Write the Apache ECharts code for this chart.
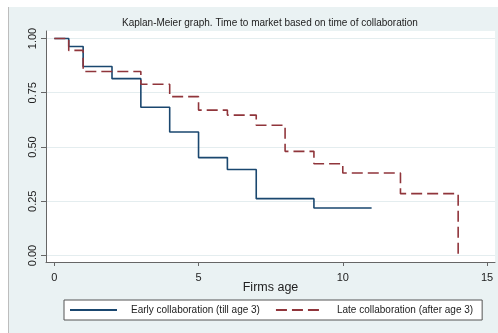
<!DOCTYPE html>
<html>
<head>
<meta charset="utf-8">
<script src="https://cdn.jsdelivr.net/npm/echarts@6/dist/echarts.min.js"></script>
<style>
  html, body { margin: 0; padding: 0; background: #ffffff; }
  #chart { width: 498px; height: 333px; }
</style>
</head>
<body>
<div id="chart"></div>
<script>
// Kaplan-Meier survival estimates: [time, survival] pairs, value held until next time
const earlyTimes = [0, 0.5, 1, 2, 3, 4, 5, 6, 7, 9, 11];
const earlySurvival = [1, 0.963, 0.871, 0.815, 0.683, 0.569, 0.451, 0.396, 0.262, 0.219, 0.219];
const lateTimes = [0, 0.5, 1, 3, 4, 5, 6, 7, 8, 9, 10, 12, 14];
const lateSurvival = [1, 0.945, 0.848, 0.789, 0.732, 0.670, 0.647, 0.600, 0.480, 0.423, 0.380, 0.285, 0];
const xTicks = [0, 5, 10, 15];
const yTicks = [0, 0.25, 0.5, 0.75, 1];
const seriesNames = ['Early collaboration (till age 3)', 'Late collaboration (after age 3)'];
const titleText = 'Kaplan-Meier graph. Time to market based on time of collaboration';
const xTitle = 'Firms age';

const pair = (xs, ys) => xs.map((x, i) => [x, ys[i]]);

const FONT = '"Liberation Sans", Arial, sans-serif';
const AXIS = '#666666';

const chart = echarts.init(document.getElementById('chart'), null, { renderer: 'canvas' });

chart.setOption({
  animation: false,
  backgroundColor: '#ffffff',
  graphic: [
    { type: 'rect', z: -10, shape: { x: 8, y: 7, width: 490, height: 326 },
      style: { fill: '#eaf2f3' } },
    { type: 'line', z: -9, shape: { x1: 8.5, y1: 7, x2: 8.5, y2: 333 },
      style: { stroke: '#bdbdbd', lineWidth: 1 } }
  ],
  title: {
    text: titleText,
    left: 122, top: 18, padding: 0,
    textStyle: { fontFamily: FONT, fontSize: 10, fontWeight: 'normal', color: '#222' }
  },
  grid: {
    left: 46, right: 3, top: 31, bottom: 71,
    show: true, backgroundColor: '#ffffff', borderWidth: 0
  },
  legend: {
    left: 64, top: 300,
    padding: [5, 9, 5, 5],
    itemGap: 15,
    itemWidth: 47, itemHeight: 12,
    backgroundColor: '#ffffff',
    borderColor: '#555555', borderWidth: 1, borderRadius: 0,
    itemStyle: { opacity: 0 },
    textStyle: { fontFamily: FONT, fontSize: 10, color: '#222', padding: [0, 0, 0, 9] },
    data: seriesNames
  },
  xAxis: {
    type: 'value',
    min: -0.288, max: 15.277,
    name: xTitle, nameLocation: 'middle', nameGap: 19, nameMoveOverlap: false,
    nameTextStyle: { fontFamily: FONT, fontSize: 12.5, color: '#222' },
    axisLine: { show: true, onZero: false, lineStyle: { color: AXIS, width: 1 } },
    axisTick: { show: true, length: 4, customValues: xTicks, lineStyle: { color: AXIS } },
    axisLabel: { customValues: xTicks, margin: 10, fontFamily: FONT, fontSize: 11, color: '#222' },
    splitLine: { show: false }
  },
  yAxis: {
    type: 'value',
    min: -0.030, max: 1.0345,
    axisLine: { show: true, onZero: false, lineStyle: { color: AXIS, width: 1 } },
    axisTick: { show: true, length: 5, customValues: yTicks, lineStyle: { color: AXIS } },
    axisLabel: {
      customValues: yTicks, rotate: 90, margin: 8,
      fontFamily: FONT, fontSize: 11, color: '#222',
      formatter: v => v.toFixed(2)
    },
    splitLine: { show: true, lineStyle: { color: '#e4edef', width: 1 } }
  },
  series: [
    {
      name: seriesNames[0], type: 'line', step: 'end', symbol: 'none',
      data: pair(earlyTimes, earlySurvival),
      itemStyle: { color: '#1a476f' },
      lineStyle: { color: '#1a476f', width: 1.6, type: 'solid' }
    },
    {
      name: seriesNames[1], type: 'line', step: 'end', symbol: 'none',
      data: pair(lateTimes, lateSurvival),
      itemStyle: { color: '#90353b' },
      lineStyle: { color: '#90353b', width: 1.6, type: [11, 5] }
    }
  ]
});
</script>
</body>
</html>
